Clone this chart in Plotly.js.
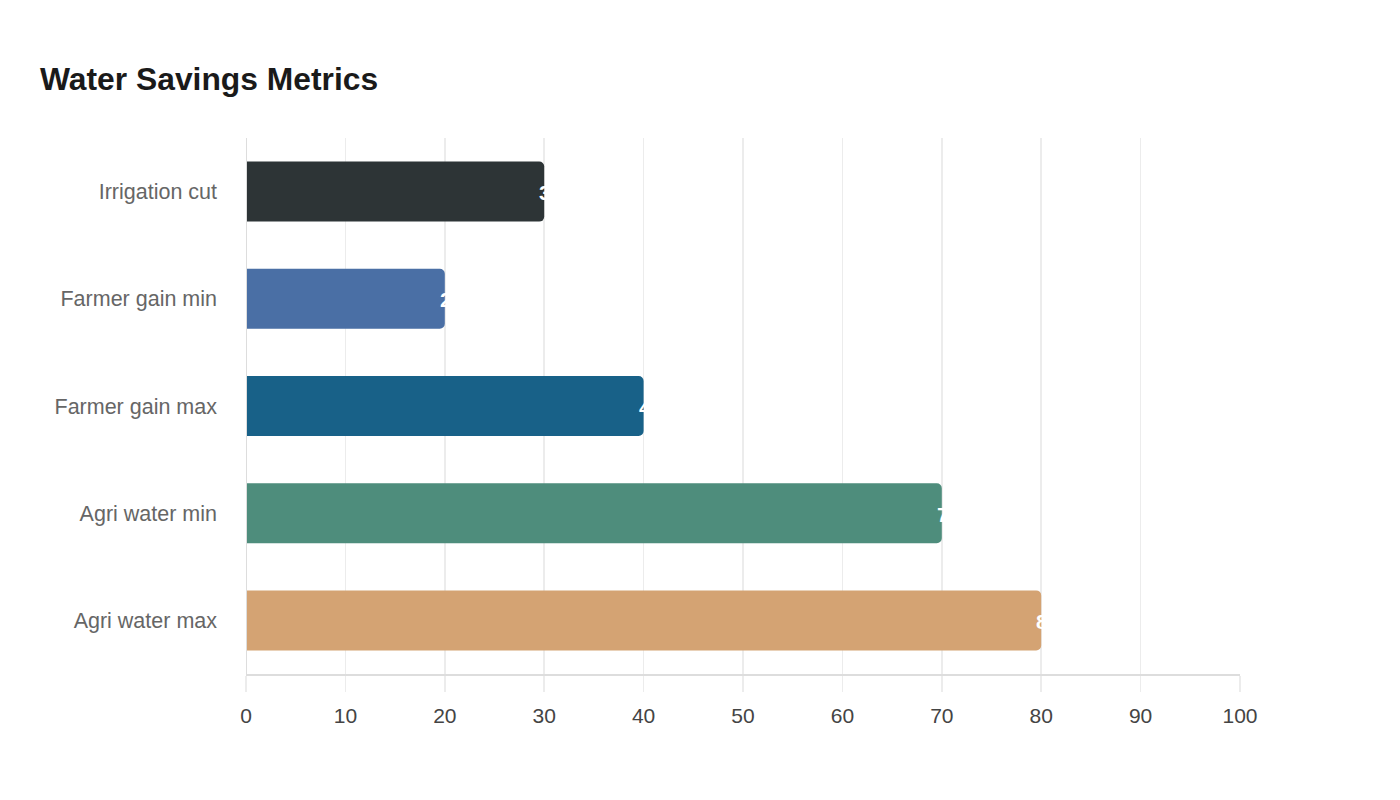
<!DOCTYPE html>
<html>
<head>
<meta charset="utf-8">
<script src="https://cdn.plot.ly/plotly-3.0.1.min.js"></script>
<style>
  html, body { margin: 0; padding: 0; background: #fff; }
  #chart { width: 1400px; height: 800px; }
</style>
</head>
<body>
<div id="chart"></div>
<script>
// categories top to bottom
var metrics = ["Irrigation cut", "Farmer gain min", "Farmer gain max", "Agri water min", "Agri water max"];
var percents = [30, 20, 40, 70, 80];
var barColors = ["#2d3436", "#4a6fa5", "#186188", "#4e8d7c", "#d4a373"];
var xTicks = [0, 10, 20, 30, 40, 50, 60, 70, 80, 90, 100];

var bars = {
  type: "bar",
  orientation: "h",
  y: metrics,
  x: percents,
  marker: { color: barColors },
  hoverinfo: "x+y",
  showlegend: false
};

// white value labels starting just inside the bar end: only a sliver shows on the bar
var valueLabels = metrics.map(function (m, i) {
  return {
    xref: "x", yref: "y",
    x: percents[i], y: m,
    text: "<b>" + percents[i] + "</b>",
    showarrow: false,
    xanchor: "left", yanchor: "middle",
    xshift: -7,
    yshift: -1,
    font: { family: "Liberation Sans, Arial, sans-serif", size: 21, color: "#ffffff" }
  };
});

var layout = {
  width: 1400,
  height: 800,
  paper_bgcolor: "#ffffff",
  plot_bgcolor: "#ffffff",
  margin: { l: 246, r: 160, t: 138, b: 126 },
  font: { family: "Liberation Sans, Arial, sans-serif" },
  title: {
    text: "<b>Water Savings Metrics</b>",
    xref: "container", xanchor: "left", x: 40 / 1400,
    yref: "container", yanchor: "middle", y: 1 - 79 / 800,
    font: { size: 31.8, color: "#1a1a1a" }
  },
  bargap: 0.44,
  barcornerradius: 5,
  xaxis: {
    range: [0, 100],
    tickvals: xTicks,
    ticktext: xTicks.map(String),
    showgrid: true,
    gridcolor: "#ececec",
    gridwidth: 1.5,
    zeroline: false,
    showline: true,
    linecolor: "#dddddd",
    linewidth: 1.5,
    ticks: "outside",
    ticklen: 16,
    tickcolor: "#ececec",
    tickwidth: 1.5,
    ticklabelstandoff: 6,
    tickfont: { size: 21, color: "#444444" },
    fixedrange: true
  },
  yaxis: {
    categoryorder: "array",
    categoryarray: metrics.slice().reverse(),
    showgrid: false,
    zeroline: false,
    showline: false,
    ticks: "",
    ticklabelstandoff: 28,
    tickfont: { size: 21.5, color: "#666666" },
    fixedrange: true
  },
  annotations: valueLabels,
  shapes: [{
    type: "line", xref: "x", yref: "paper",
    x0: 0, x1: 0, y0: 0, y1: 1,
    line: { color: "#dddddd", width: 2 }
  }]
};

Plotly.newPlot("chart", [bars], layout, { displayModeBar: false, staticPlot: true });
</script>
</body>
</html>
